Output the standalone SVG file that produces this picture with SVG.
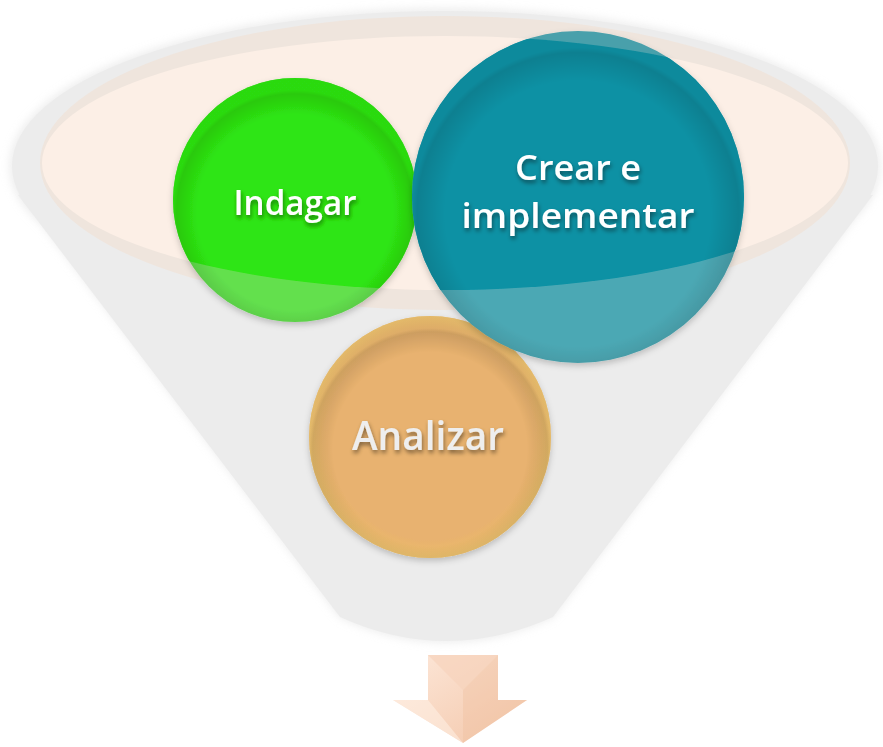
<svg xmlns="http://www.w3.org/2000/svg" width="883" height="747" viewBox="0 0 883 747">
<defs>
<style>
.lbl{font-family:"Open Sans","Noto Sans","DejaVu Sans",sans-serif;font-weight:600;text-anchor:middle;fill:#ffffff;}
.gray{fill:#ececec;}
</style>
<filter id="halo" x="-10%" y="-10%" width="120%" height="120%"><feGaussianBlur stdDeviation="5"/></filter>
<filter id="tshadow" x="-20%" y="-40%" width="140%" height="180%"><feDropShadow dx="1" dy="3" stdDeviation="2" flood-color="#000" flood-opacity="0.45"/></filter>
<filter id="cshadow" x="-20%" y="-20%" width="140%" height="140%"><feDropShadow dx="0" dy="3" stdDeviation="3" flood-color="#000" flood-opacity="0.2"/></filter>
<clipPath id="inner"><ellipse cx="445" cy="163" rx="403" ry="127"/></clipPath>
<radialGradient id="rim" cx="50%" cy="55%" r="50%">
<stop offset="0.8" stop-color="#000" stop-opacity="0"/>
<stop offset="0.97" stop-color="#000" stop-opacity="0.12"/>
<stop offset="1" stop-color="#000" stop-opacity="0.05"/>
</radialGradient>
<radialGradient id="orimg" cx="50%" cy="50%" r="50%">
<stop offset="0.85" stop-color="#f0c060" stop-opacity="0"/>
<stop offset="1" stop-color="#f4d070" stop-opacity="0.6"/>
</radialGradient>
<linearGradient id="arrowG" x1="0" y1="0" x2="1" y2="1">
<stop offset="0" stop-color="#fde8da"/>
<stop offset="1" stop-color="#f3c6a9"/>
</linearGradient>
</defs>

<g id="funnel">
<g opacity="0.5" filter="url(#halo)">
<ellipse cx="445" cy="166" rx="435" ry="157" fill="#d8d8d8"/>
<path d="M16,190 L340,617 Q446,667 553,617 L876,190 Z" fill="#d8d8d8"/>
</g>
<ellipse class="gray" cx="445" cy="166" rx="433" ry="155"/>
<path class="gray" d="M18,195 L340,617 Q446,665 553,617 L873,195 Z"/>
<ellipse cx="445" cy="163" rx="405" ry="147" fill="#efe5dd"/>
<ellipse cx="445" cy="163" rx="403" ry="127" fill="#fcefe6"/>
</g>

<g id="node-analizar" filter="url(#cshadow)">
<circle cx="430" cy="437" r="121" fill="#e8b26f"/>
<circle cx="430" cy="437" r="121" fill="url(#orimg)"/>
<circle cx="430" cy="437" r="121" fill="url(#rim)"/>
<text class="lbl" x="428" y="450" font-size="40" textLength="152" lengthAdjust="spacingAndGlyphs" style="fill:#eeeeee" filter="url(#tshadow)">Analizar</text>
</g>

<g id="node-indagar" filter="url(#cshadow)">
<circle cx="295" cy="200" r="122" fill="#63e04e"/>
<circle cx="295" cy="200" r="122" fill="#2ee512" clip-path="url(#inner)"/>
<circle cx="295" cy="200" r="122" fill="url(#rim)"/>
<text class="lbl" x="295" y="215" font-size="35" textLength="123" lengthAdjust="spacingAndGlyphs" filter="url(#tshadow)">Indagar</text>
</g>

<g id="node-crear" filter="url(#cshadow)">
<circle cx="578" cy="197" r="166" fill="#4ca8b4"/>
<circle cx="578" cy="197" r="166" fill="#0a91a4" clip-path="url(#inner)"/>
<circle cx="578" cy="197" r="166" fill="url(#rim)"/>
<text class="lbl" x="578" y="180" font-size="35" textLength="126" lengthAdjust="spacingAndGlyphs" filter="url(#tshadow)">Crear e</text>
<text class="lbl" x="578" y="228" font-size="35" textLength="233" lengthAdjust="spacingAndGlyphs" filter="url(#tshadow)">implementar</text>
</g>

<g id="connectors">
<g id="arrow-down">
<polygon points="428,655 498,655 498,700 527,700 463,743 393,700 428,700" fill="url(#arrowG)"/>
<polygon points="428,655 498,655 463,690" fill="#f7d3bc" opacity="0.7"/>
<polygon points="463,690 498,655 498,700 527,700 463,743" fill="#eebc9c" opacity="0.35"/>
<polygon points="393,700 428,700 463,743" fill="#fff3ea" opacity="0.5"/>
</g>
</g>
</svg>
